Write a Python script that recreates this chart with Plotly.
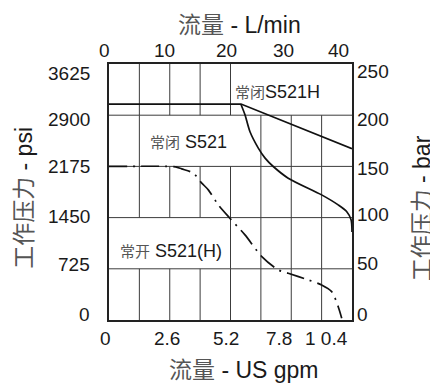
import plotly.graph_objects as go

# ---------------- data (flow in US gpm, pressure in bar) ----------------
s521h_gpm = [0.0, 5.65, 10.4]
s521h_bar = [210.9, 210.9, 167.2]

s521_gpm = [5.65, 5.82, 6.03, 6.39, 6.68, 7.03, 7.67, 9.10, 9.81, 10.17, 10.36, 10.40]
s521_bar = [210.5, 200.4, 184.1, 167.9, 158.1, 149.9, 138.5, 122.2, 112.4, 105.9, 97.8, 86.0]

s521no_gpm = [0.0, 2.61, 2.85, 3.11, 3.61, 3.97, 4.25, 4.68, 5.18, 5.82, 6.54, 7.25, 7.67, 8.53, 9.10, 9.53, 9.81, 9.96]
s521no_bar = [150.0, 150.0, 149.6, 147.6, 143.4, 133.7, 127.1, 112.4, 99.2, 83.1, 61.9, 48.9, 45.7, 39.1, 34.2, 27.7, 13.0, 1.7]

# grid
grid_gpm = [0.0, 1.3, 2.6, 3.9, 5.2, 6.5, 7.8, 9.1, 10.4]
grid_bar = [0, 50, 100, 150, 200, 250]

# tick labels
gpm_labels = ["0", "2.6", "5.2", "7.8", "1 0.4"]
gpm_label_pos = [0.0, 2.64, 5.17, 7.45, 9.49]
lmin_labels = ["0", "10", "20", "30", "40"]
lmin_label_pos = [0.0, 9.72, 19.88, 29.05, 37.96]
psi_labels = ["3625", "2900", "2175", "1450", "725", "0"]
psi_label_pos = [3497, 2835, 2173, 1464, 780, 71]
bar_labels = ["250", "200", "150", "100", "50", "0"]
bar_label_pos = [242.8, 195.5, 148.3, 102.7, 55.4, 4.9]

GPM_MAX = 10.4
LMIN_PER_GPM = 3.7854
PSI_MAX = 3625
BAR_MAX = 250

# label cells (kept free of grid lines): x0, x1, y0, y1 in gpm / bar
label_cells = [(5.2, 10.4, 200, 250), (1.3, 6.5, 150, 200), (0.0, 5.2, 50, 100)]

LAT = "Liberation Sans, Arial, Noto Sans CJK SC"
INK = "#1a1a1a"
GRID = "#3c3c3c"


def in_cell(gx, ya, yb):
    for (x0, x1, y0, y1) in label_cells:
        if x0 < gx < x1 and y0 <= ya and yb <= y1:
            return True
    return False


fig = go.Figure()

# grid segments from the grid arrays, one trace each (interior lines only)
grid_style = dict(color=GRID, width=1)
for gx in grid_gpm[1:-1]:
    for ya, yb in zip(grid_bar[:-1], grid_bar[1:]):
        if not in_cell(gx, ya, yb):
            fig.add_trace(go.Scatter(x=[gx, gx], y=[ya, yb], mode="lines", line=grid_style,
                                     hoverinfo="skip", showlegend=False))
for gy in grid_bar[1:-1]:
    fig.add_trace(go.Scatter(x=[grid_gpm[0], grid_gpm[-1]], y=[gy, gy], mode="lines",
                             line=grid_style, hoverinfo="skip", showlegend=False))

fig.add_trace(go.Scatter(x=s521h_gpm, y=s521h_bar, mode="lines",
                         line=dict(color="#111", width=1.7),
                         hoverinfo="skip", showlegend=False))
fig.add_trace(go.Scatter(x=s521_gpm, y=s521_bar, mode="lines",
                         line=dict(color="#111", width=1.7, shape="spline", smoothing=0.8),
                         hoverinfo="skip", showlegend=False))
fig.add_trace(go.Scatter(x=s521no_gpm, y=s521no_bar, mode="lines",
                         line=dict(color="#111", width=1.7, shape="spline", smoothing=0.8,
                                   dash="18px,6px,2px,6px"),
                         hoverinfo="skip", showlegend=False))

tick_font = dict(family=LAT, size=19, color=INK)

# page body has an 8px default margin: figure is 8px smaller and margins compensate
fig.update_layout(
    width=430, height=377,
    margin=dict(l=101, r=86, t=56, b=65),
    paper_bgcolor="white", plot_bgcolor="white",
    showlegend=False,
    xaxis=dict(range=[0, GPM_MAX], showticklabels=False, ticks="",
               showgrid=False, zeroline=False,
               showline=True, linecolor="#222", linewidth=1.6, mirror=True),
    yaxis=dict(range=[0, BAR_MAX], showticklabels=False, ticks="",
               showgrid=False, zeroline=False,
               showline=True, linecolor="#222", linewidth=1.6, mirror=True),
)

# tick labels: bottom (gpm), top (L/min), left (psi), right (bar)
for t, v in zip(gpm_labels, gpm_label_pos):
    fig.add_annotation(xref="x", yref="paper", x=v, y=0.0, yshift=-6, xshift=-4,
                       xanchor="center", yanchor="top", text=t, showarrow=False,
                       font=tick_font)
for t, v in zip(lmin_labels, lmin_label_pos):
    fig.add_annotation(xref="x", yref="paper", x=v / LMIN_PER_GPM, y=1.0, yshift=1, xshift=-5,
                       xanchor="center", yanchor="bottom", text=t, showarrow=False,
                       font=tick_font)
for t, v in zip(psi_labels, psi_label_pos):
    fig.add_annotation(xref="paper", yref="y", x=0.0, xshift=-17, y=v / PSI_MAX * BAR_MAX,
                       xanchor="right", yanchor="middle", text=t, showarrow=False,
                       font=tick_font)
for t, v in zip(bar_labels, bar_label_pos):
    fig.add_annotation(xref="paper", yref="y", x=1.0, xshift=3, y=v,
                       xanchor="left", yanchor="middle", text=t, showarrow=False,
                       font=tick_font)

def cjk(s, size, color="#555"):
    return f'<span style="font-size:{size}px;color:{color}">{s}</span>'

title_font = dict(family=LAT, size=23, color=INK)
anns = [
    dict(text=cjk("流量", 23) + " - L/min", x=0.535, y=1.153, textangle=0),
    dict(text=cjk("流量", 23) + " - US gpm", x=0.556, y=-0.197, textangle=0),
    dict(text=cjk("工作压力", 23) + " - psi", x=-0.350, y=0.477, textangle=-90),
    dict(text=cjk("工作压力", 23) + " - bar", x=1.286, y=0.438, textangle=-90),
]
for a in anns:
    fig.add_annotation(xref="paper", yref="paper", xanchor="center", yanchor="middle",
                       showarrow=False, font=title_font, **a)

label_font = dict(family=LAT, size=18, color=INK)
labels = [
    (cjk("常闭", 15) + "S521H", 5.32, 222.6),
    (cjk("常闭", 15) + " S521", 1.68, 174.3),
    (cjk("常开", 15) + " S521(H)", 0.40, 67.8),
]
for t, x, y in labels:
    fig.add_annotation(xref="x", yref="y", x=x, y=y, text=t, xanchor="left", yanchor="middle",
                       showarrow=False, font=label_font)

fig.write_html("out.html", config={"displayModeBar": False})
